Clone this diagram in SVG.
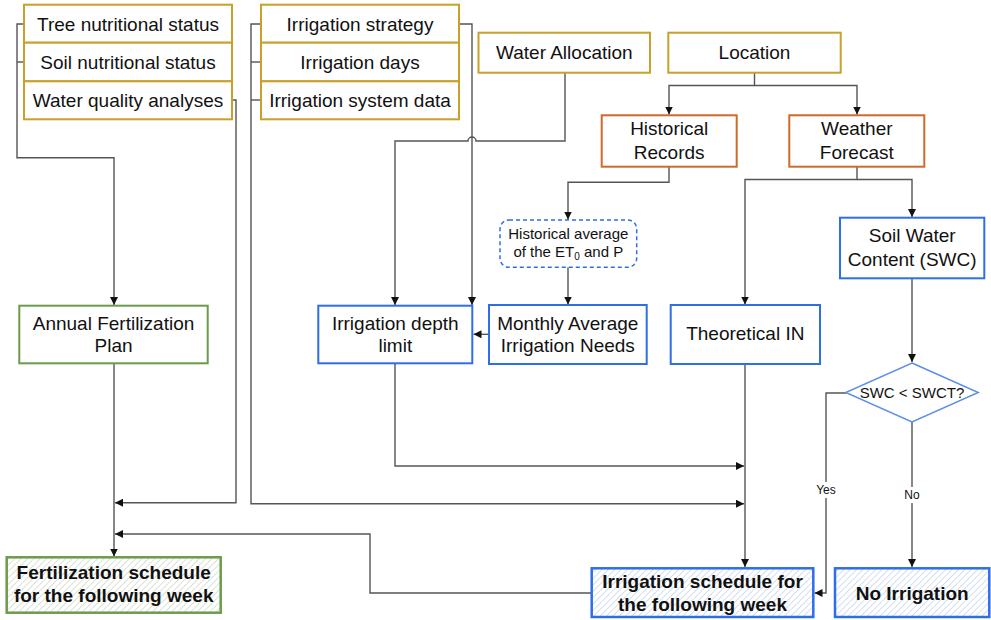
<svg xmlns="http://www.w3.org/2000/svg" width="991" height="620" viewBox="0 0 991 620">
<defs>
<style>
text{font-family:"Liberation Sans",Arial,sans-serif;fill:#111;text-anchor:middle}
.t{font-size:19px}
.b{font-size:19px;font-weight:bold}
.s{font-size:15px}
.xs{font-size:12px}
.gold{fill:#fff;stroke:#c9a02a;stroke-width:2}
.orange{fill:#fff;stroke:#cf6a2a;stroke-width:2}
.blue{fill:#fff;stroke:#2e6ee6;stroke-width:2}
.green{fill:#fff;stroke:#6b9b4b;stroke-width:2}
.conn path{fill:none;stroke:#555;stroke-width:1.4}
.arr{marker-end:url(#ah)}
</style>
<marker id="ah" viewBox="0 0 8 8" refX="8" refY="4" markerWidth="8" markerHeight="8" markerUnits="userSpaceOnUse" orient="auto">
<path d="M0,0 L8,4 L0,8 z" fill="#111"/>
</marker>
<pattern id="hg" patternUnits="userSpaceOnUse" width="4.5" height="4.5" patternTransform="rotate(45)">
<rect width="4.5" height="4.5" fill="#fff"/>
<line x1="0" y1="0" x2="0" y2="4.5" stroke="#c3d0b8" stroke-width="1.2"/>
</pattern>
<pattern id="hb" patternUnits="userSpaceOnUse" width="4.5" height="4.5" patternTransform="rotate(45)">
<rect width="4.5" height="4.5" fill="#fff"/>
<line x1="0" y1="0" x2="0" y2="4.5" stroke="#b5c9ea" stroke-width="1.2"/>
</pattern>
</defs>
<rect width="991" height="620" fill="#fff"/>

<g class="conn" id="connectors">
<path d="M24 24 H17 V157.7 H114 V305" class="arr"/>
<path d="M24 62 H17"/>
<path d="M232 100 H236 V502.7 H115" class="arr"/>
<path d="M114 363.3 V556.5" class="arr"/>
<path d="M261 24 H251 V503.7 H744" class="arr"/>
<path d="M261 62 H251"/>
<path d="M261 100 H251"/>
<path d="M459 24 H472 V305" class="arr"/>
<path d="M565 72.7 V141 H476 A4 4 0 0 0 468 141 H395 V305" class="arr"/>
<path d="M754.5 72.7 V85.5 H669 V114.5" class="arr"/>
<path d="M754.5 85.5 H857 V114.5" class="arr"/>
<path d="M669 166.7 V182.3 H568 V219.5" class="arr"/>
<path d="M857 166.7 V179.5 H745 V304.5" class="arr"/>
<path d="M857 179.5 H912 V217" class="arr"/>
<path d="M568 267.3 V304.5" class="arr"/>
<path d="M489 334.3 H473.5" class="arr"/>
<path d="M395 363.3 V466 H744" class="arr"/>
<path d="M745 364 V567" class="arr"/>
<path d="M591.7 593 H370 V534 H115" class="arr"/>
<path d="M912 278.3 V362" class="arr"/>
<path d="M846 393 H826 V593 H814.5" class="arr"/>
<path d="M912 422 V567" class="arr"/>
<rect x="813" y="482" width="26" height="16" fill="#fff"/>
<text class="xs" x="826" y="494">Yes</text>
<rect x="901" y="487" width="22" height="16" fill="#fff"/>
<text class="xs" x="912" y="499">No</text>
</g>

<g id="tree-nutritional-status"><rect class="gold" x="24" y="4.7" width="208" height="38"/><text class="t" x="128" y="30.5">Tree nutritional status</text></g>
<g id="soil-nutritional-status"><rect class="gold" x="24" y="42.7" width="208" height="38.6"/><text class="t" x="128" y="68.7">Soil nutritional status</text></g>
<g id="water-quality-analyses"><rect class="gold" x="24" y="81.3" width="208" height="38"/><text class="t" x="128" y="107">Water quality analyses</text></g>

<g id="irrigation-strategy"><rect class="gold" x="261" y="4.7" width="198" height="38"/><text class="t" x="360" y="30.5">Irrigation strategy</text></g>
<g id="irrigation-days"><rect class="gold" x="261" y="42.7" width="198" height="38.6"/><text class="t" x="360" y="68.7">Irrigation days</text></g>
<g id="irrigation-system-data"><rect class="gold" x="261" y="81.3" width="198" height="38"/><text class="t" x="360" y="107">Irrigation system data</text></g>

<g id="water-allocation"><rect class="gold" x="478.5" y="32.7" width="171.5" height="40"/><text class="t" x="564.3" y="59.4">Water Allocation</text></g>
<g id="location"><rect class="gold" x="668.3" y="32.7" width="172.4" height="40"/><text class="t" x="754.5" y="59.4">Location</text></g>

<g id="historical-records"><rect class="orange" x="601.7" y="115.3" width="135" height="51.4"/><text class="t" x="669.2" y="135">Historical</text><text class="t" x="669.2" y="158.5">Records</text></g>
<g id="weather-forecast"><rect class="orange" x="789.3" y="115.3" width="135" height="51.4"/><text class="t" x="856.8" y="135">Weather</text><text class="t" x="856.8" y="158.5">Forecast</text></g>

<g id="historical-average"><rect x="500" y="220" width="136.7" height="47.3" rx="9" fill="#fff" stroke="#2e6ee6" stroke-width="1.5" stroke-dasharray="4 3"/><text class="s" x="568.3" y="238.6">Historical average</text><text class="s" x="568.3" y="257">of the ET<tspan font-size="10" dy="3">0</tspan><tspan dy="-3"> and P</tspan></text></g>

<g id="soil-water-content"><rect class="blue" x="840" y="217.7" width="144.3" height="60.6"/><text class="t" x="912.2" y="241.7">Soil Water</text><text class="t" x="912.2" y="266">Content (SWC)</text></g>

<g id="annual-fertilization-plan"><rect class="green" x="19.3" y="305.7" width="188.4" height="57.6"/><text class="t" x="113.5" y="329.5">Annual Fertilization</text><text class="t" x="113.5" y="351.7">Plan</text></g>
<g id="irrigation-depth-limit"><rect class="blue" x="318.3" y="305.7" width="154" height="57.6"/><text class="t" x="395.3" y="329.5">Irrigation depth</text><text class="t" x="395.3" y="351.7">limit</text></g>
<g id="monthly-average"><rect class="blue" x="489" y="305" width="157.7" height="59"/><text class="t" x="567.8" y="329.5">Monthly Average</text><text class="t" x="567.8" y="351.7">Irrigation Needs</text></g>
<g id="theoretical-in"><rect class="blue" x="670.7" y="305" width="149.3" height="59"/><text class="t" x="745.3" y="340">Theoretical IN</text></g>

<g id="swc-decision"><polygon points="912,363 978.3,392.5 912,422 845.7,392.5" fill="#fff" stroke="#5a8de8" stroke-width="1.4"/><text class="s" x="912" y="397.5">SWC &lt; SWCT?</text></g>

<g id="fertilization-schedule"><rect x="6.7" y="557.3" width="214" height="55.4" fill="url(#hg)" stroke="#6b9b4b" stroke-width="2.5"/><text class="b" x="113.7" y="579.4">Fertilization schedule</text><text class="b" x="113.7" y="601.7">for the following week</text></g>
<g id="irrigation-schedule"><rect x="591.7" y="568.3" width="221.6" height="48.7" fill="url(#hb)" stroke="#2e6ee6" stroke-width="2.5"/><text class="b" x="702.5" y="588.4">Irrigation schedule for</text><text class="b" x="702.5" y="611">the following week</text></g>
<g id="no-irrigation"><rect x="835" y="568.3" width="154.3" height="48.7" fill="url(#hb)" stroke="#2e6ee6" stroke-width="2.5"/><text class="b" x="912.2" y="600">No Irrigation</text></g>
</svg>
